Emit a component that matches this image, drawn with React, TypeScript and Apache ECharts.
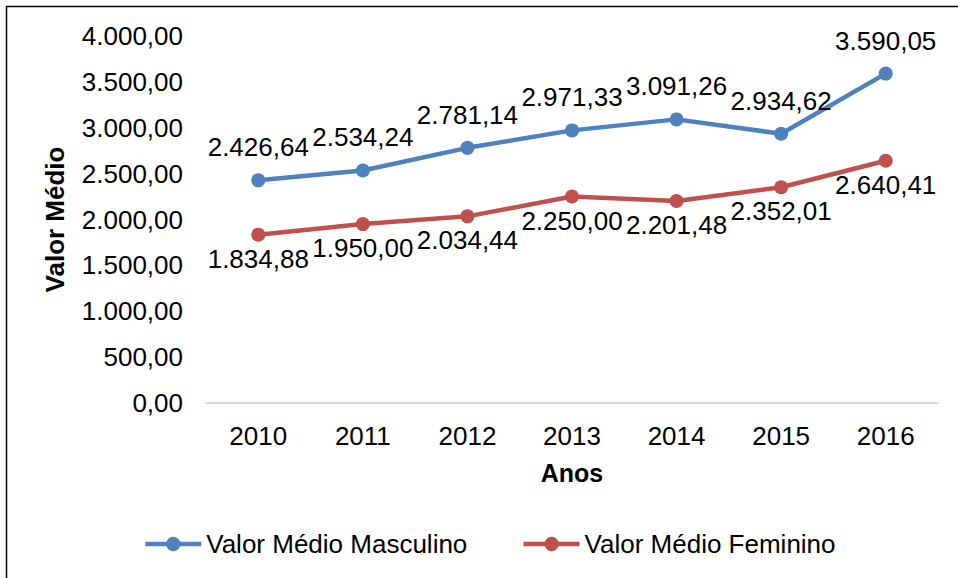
import React, { useEffect, useRef } from "react";
import * as echarts from "echarts";

const categories = ["2010", "2011", "2012", "2013", "2014", "2015", "2016"];
const masculino = [2426.64, 2534.24, 2781.14, 2971.33, 3091.26, 2934.62, 3590.05];
const feminino = [1834.88, 1950.0, 2034.44, 2250.0, 2201.48, 2352.01, 2640.41];
const seriesNames = ["Valor Médio Masculino", "Valor Médio Feminino"];
const yTicks = { min: 0, max: 4000, interval: 500 };

const FONT = "'Liberation Sans', Arial, sans-serif";

function fmt(v: number): string {
  const [int, dec] = v.toFixed(2).split(".");
  const withSep = int.replace(/\B(?=(\d{3})+(?!\d))/g, ".");
  return withSep + "," + dec;
}

export default function App() {
  const ref = useRef<HTMLDivElement>(null);
  useEffect(() => {
    if (!ref.current) return;
    const chart = echarts.init(ref.current, undefined, { renderer: "svg" });
    const femData = feminino.map((v, i) =>
      i === feminino.length - 1
        ? { value: v, label: { offset: [2, 3] } }
        : { value: v }
    );
    chart.setOption({
      animation: false,
      backgroundColor: "#fff",
      textStyle: { fontFamily: FONT },
      graphic: [
        {
          type: "rect",
          shape: { x: 6.5, y: 6.5, width: 1000, height: 1000 },
          style: { fill: "none", stroke: "#000", lineWidth: 1.5 },
          silent: true,
        },
      ],
      grid: {
        left: 206,
        right: 20,
        top: 36,
        bottom: 175,
        containLabel: false,
        outerBoundsMode: "none",
      },
      legend: {
        left: 143,
        top: 531,
        padding: 0,
        itemWidth: 56,
        itemHeight: 18,
        itemGap: 54,
        lineStyle: { width: 4.5 },
        textStyle: { fontSize: 26, color: "#000", fontFamily: FONT },
        data: seriesNames,
      },
      xAxis: {
        type: "category",
        data: categories,
        boundaryGap: true,
        name: "Anos",
        nameLocation: "middle",
        nameGap: 57,
        nameTextStyle: { fontSize: 25, fontWeight: "bold", color: "#000", fontFamily: FONT },
        axisLine: { show: true, lineStyle: { color: "#d9d9d9", width: 2 } },
        axisTick: { show: false },
        axisLabel: { fontSize: 26, color: "#000", margin: 20, fontFamily: FONT },
        splitLine: { show: false },
      },
      yAxis: {
        type: "value",
        min: yTicks.min,
        max: yTicks.max,
        interval: yTicks.interval,
        name: "Valor Médio",
        nameLocation: "middle",
        nameGap: 138,
        nameRotate: 90,
        nameTextStyle: { fontSize: 26, fontWeight: "bold", color: "#000", fontFamily: FONT },
        axisLine: { show: false },
        axisTick: { show: false },
        splitLine: { show: false },
        axisLabel: {
          fontSize: 26,
          color: "#000",
          margin: 23,
          fontFamily: FONT,
          formatter: (v: number) => fmt(v),
        },
      },
      series: [
        {
          name: seriesNames[0],
          type: "line",
          data: masculino,
          color: "#4F81BD",
          symbol: "circle",
          symbolSize: 14,
          lineStyle: { width: 4.5, color: "#4F81BD" },
          itemStyle: { color: "#4F81BD" },
          label: {
            show: true,
            position: "top",
            distance: 13,
            fontSize: 26,
            color: "#000",
            fontFamily: FONT,
            formatter: (p: any) => fmt(p.value),
          },
          labelLayout: { hideOverlap: false },
        },
        {
          name: seriesNames[1],
          type: "line",
          data: femData,
          color: "#C0504D",
          symbol: "circle",
          symbolSize: 14,
          lineStyle: { width: 4.5, color: "#C0504D" },
          itemStyle: { color: "#C0504D" },
          label: {
            show: true,
            position: "bottom",
            distance: 4,
            offset: [10, 0],
            fontSize: 26,
            color: "#000",
            fontFamily: FONT,
            formatter: (p: any) => fmt(typeof p.value === "number" ? p.value : p.data.value),
          },
          labelLayout: { hideOverlap: false },
        },
      ],
    });
    return () => chart.dispose();
  }, []);
  return (
    <div
      ref={ref}
      style={{ position: "fixed", left: 0, top: 0, width: 958, height: 578 }}
    />
  );
}
